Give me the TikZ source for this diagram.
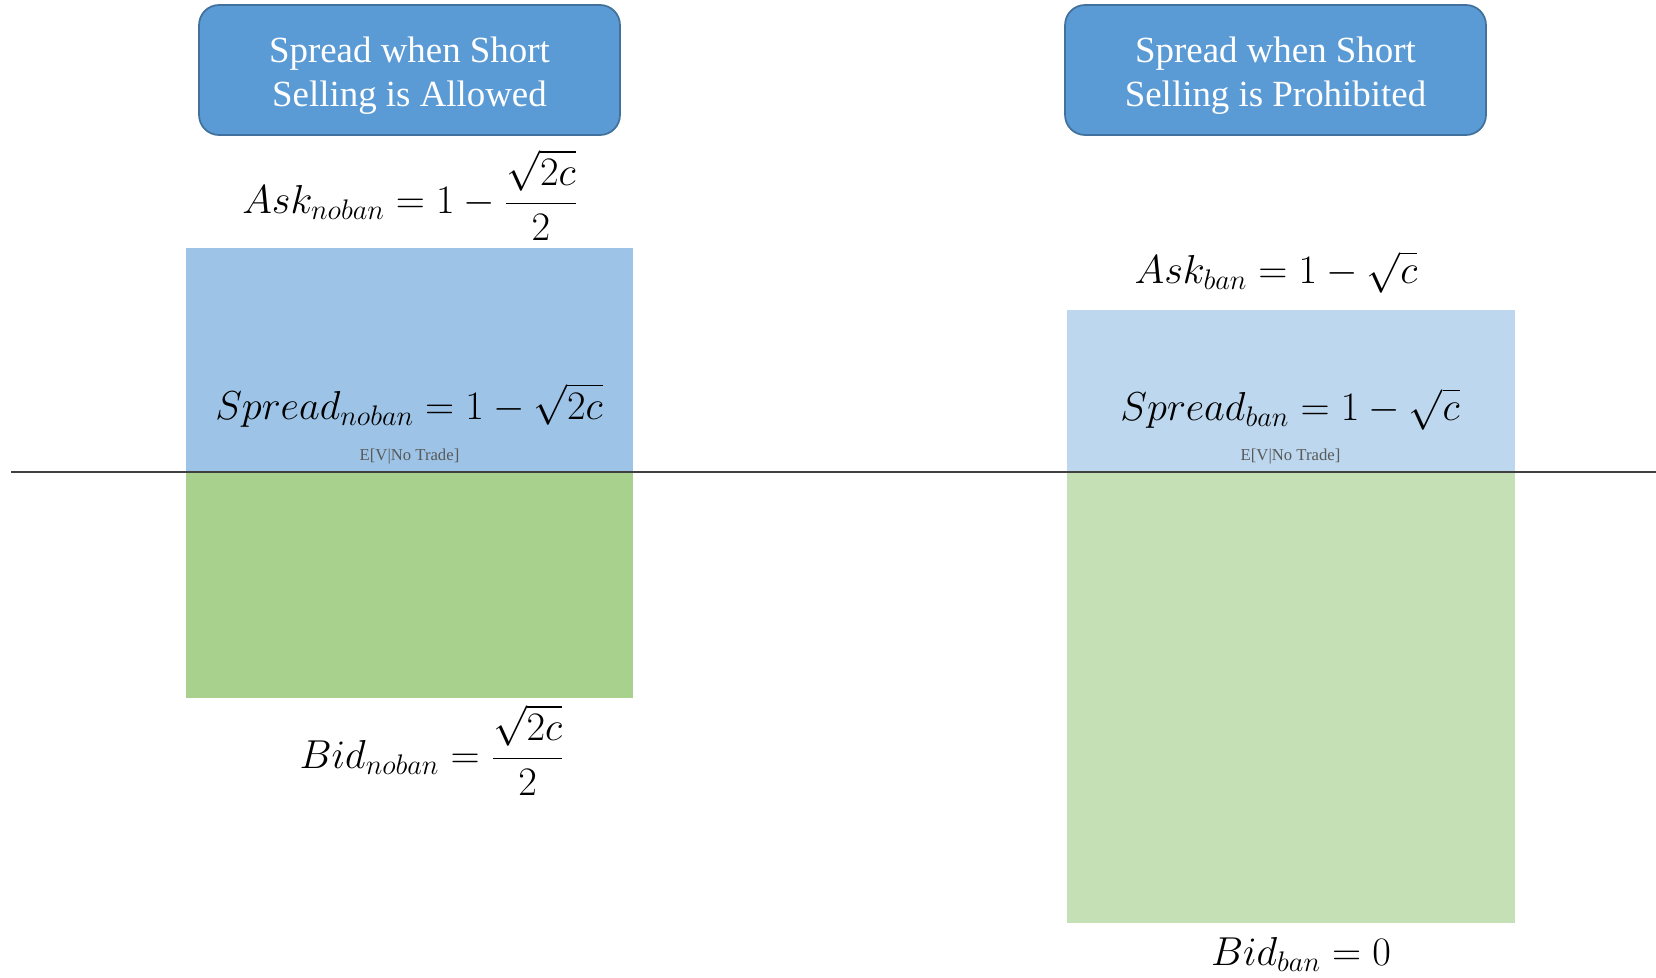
\documentclass[tikz,border=0pt]{standalone}
\usepackage{fix-cm}
\usepackage{fontspec}
\setmainfont{Liberation Serif}
\usepackage{xcolor}
\definecolor{titleBlue}{HTML}{5B9BD5}
\definecolor{titleEdge}{HTML}{41719C}
\definecolor{askBlue}{HTML}{9DC3E6}
\definecolor{askBlueLight}{HTML}{BDD7EE}
\definecolor{bidGreen}{HTML}{A9D18E}
\definecolor{bidGreenLight}{HTML}{C5E0B4}
\definecolor{noteGray}{HTML}{595959}
\definecolor{axisGray}{HTML}{404040}
\usepackage{tikz}
\usetikzlibrary{positioning}
\tikzset{
    % Title boxes on top of each column
    title box/.style={
        rectangle,
        rounded corners=0.4cm,
        draw=titleEdge,
        line width=1pt,
        fill=titleBlue,
        text=white,
        align=center,
        font=\fontsize{21}{25}\selectfont,
        text height=42pt,
        text depth=0pt,
        minimum width=8.42cm,
        minimum height=2.6cm,
    },
    % Formulas for ask, spread and bid
    formula/.style={
        font=\fontsize{23}{27}\selectfont,
        inner sep=0pt,
        anchor=base,
    },
    % Small note under the spread
    note/.style={
        font=\fontsize{9.5}{11}\selectfont,
        text=noteGray,
        inner sep=0pt,
        anchor=base,
    },
    % Horizontal axis
    axis line/.style={
        draw=axisGray,
        line width=0.8pt,
    },
}

\begin{document}
\begin{tikzpicture}[x=0.02cm, y=-0.02cm]
    \useasboundingbox (0,0) rectangle (1656,977);

    % spread areas
    \fill[askBlue] (186,248) rectangle (633,472);
    \fill[bidGreen] (186,472) rectangle (633,698);
    \fill[askBlueLight] (1067,310) rectangle (1515,472);
    \fill[bidGreenLight] (1067,472) rectangle (1515,923);

    \coordinate (axis_west) at (11,472);
    \coordinate (axis_east) at (1656,472);
    \draw [axis line] (axis_west) -- (axis_east);

    \node (title_noban) [title box] at (409.5,70) {Spread when Short\\Selling is Allowed};
    \node (title_ban) [title box] at (1275.5,70) {Spread when Short\\Selling is Prohibited};

    \node (ask_noban) [formula] at (410,213) {$\displaystyle Ask_{noban}=1-\frac{\sqrt{2c}}{2}$};
    \node (spread_noban) [formula] at (409,419) {$Spread_{noban}=1-\sqrt{2c}$};
    \node (note_noban) [note] at (409.5,460) {E[V|No Trade]};
    \node (bid_noban) [formula] at (432,768) {$\displaystyle Bid_{noban}=\frac{\sqrt{2c}}{2}$};

    \node (ask_ban) [formula] at (1276,283) {$Ask_{ban}=1-\sqrt{c}$};
    \node (spread_ban) [formula] at (1290,420) {$Spread_{ban}=1-\sqrt{c}$};
    \node (note_ban) [note] at (1290.5,460) {E[V|No Trade]};
    \node (bid_ban) [formula] at (1301,965) {$Bid_{ban}=0$};
\end{tikzpicture}
\end{document}
